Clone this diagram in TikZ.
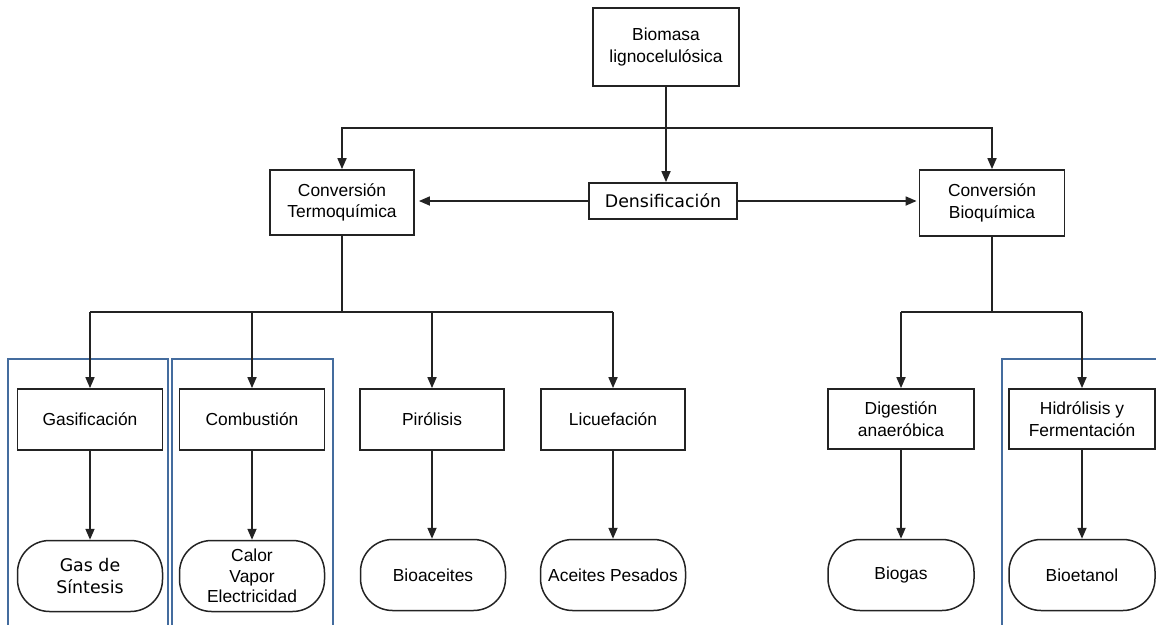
\documentclass[tikz,border=0pt]{standalone}
\usepackage{fontspec}
\usetikzlibrary{arrows.meta}
\newfontfamily\labfont{Liberation Sans}
\newfontfamily\dvfont{DejaVu Sans}
\newcommand\lab{\labfont\fontsize{17.4}{21.5}\selectfont}
\newcommand\dlab{\dvfont\fontsize{17.4}{21.5}\selectfont}
\definecolor{framecol}{RGB}{68,108,158}
\definecolor{ink}{RGB}{35,35,35}
\tikzset{
  box/.style={draw=ink, line width=1.8pt, fill=white, minimum width=145pt,
    minimum height=61pt, align=center, font=\lab, inner sep=0pt},
  oval/.style={draw=ink, line width=1.5pt, fill=white, rounded corners=32pt,
    minimum width=145pt, minimum height=71pt, align=center, font=\lab, inner sep=0pt},
  arr/.style={draw=ink, line width=1.7pt, -{Triangle[length=11pt,width=9pt]}},
  conn/.style={draw=ink, line width=1.7pt},
  frame/.style={draw=framecol, line width=2.8pt}
}
\begin{document}
\begin{tikzpicture}[x=1pt,y=-1pt]
\clip (0,0) rectangle (1156,624);
\fill[white] (0,0) rectangle (1156,624);

% grouping frames
\draw[frame] (8,640) -- (8,359) -- (168,359) -- (168,640);
\draw[frame] (172,640) -- (172,359) -- (333,359) -- (333,640);
\draw[frame] (1002,640) -- (1002,359) -- (1170,359);

% top level
\node[box, minimum width=146pt, minimum height=78pt] (bio) at (666,47) {Biomasa\\lignocelulósica};
\node[box, minimum width=144pt, minimum height=65pt] (termo) at (342,202.5) {Conversión\\Termoquímica};
\node[box, minimum width=148pt, minimum height=36pt, font=\dlab] (dens) at (663,201) {Densificación};
\node[box, minimum width=145pt, minimum height=66pt] (bioq) at (992,203) {Conversión\\Bioquímica};

% processes
\node[box] (gas)  at (90,419.5)  {Gasificación};
\node[box] (comb) at (252,419.5) {Combustión};
\node[box, minimum width=144pt] (piro) at (432,419.5) {Pirólisis};
\node[box, minimum width=144pt] (licu) at (613,419.5) {Licuefación};
\node[box, minimum width=146pt, minimum height=60pt] (dige)  at (901,419) {Digestión\\anaeróbica};
\node[box, minimum width=146pt, minimum height=60pt] (hidro) at (1082,419) {Hidrólisis y\\Fermentación};

% products
\node[oval, font=\dlab] (osin) at (90,576)  {Gas de\\Síntesis};
\node[oval, font=\fontsize{17.4}{20.5}\labfont\selectfont] (ocal) at (252,576) {Calor\\Vapor\\Electricidad};
\node[oval] (oace) at (433,575) {Bioaceites};
\node[oval] (opes) at (613,575) {Aceites Pesados};
\node[oval, minimum width=146pt] (ogas) at (901,575) {Biogas};
\node[oval, minimum width=146pt] (oeta) at (1082,575) {Bioetanol};

% distribution from the raw material
\coordinate (jt) at (666,128);
\draw[conn] (bio.south) -- (jt);
\draw[arr] (jt) -| (termo.north);
\draw[arr] (jt) -| (bioq.north);
\draw[arr] (jt) -- (jt |- dens.north);
\draw[arr, shorten >=4pt] (dens.west) -- (dens.west -| termo.east);
\draw[arr, shorten >=2pt] (dens.east) -- (dens.east -| bioq.west);

% thermochemical branch
\coordinate (jl) at (342,312);
\draw[conn] (termo.south) -- (jl);
\draw[conn] (gas.north |- jl) -- (licu.north |- jl);
\draw[arr] (gas.north |- jl) -- (gas.north);
\draw[arr] (comb.north |- jl) -- (comb.north);
\draw[arr] (piro.north |- jl) -- (piro.north);
\draw[arr] (licu.north |- jl) -- (licu.north);

% biochemical branch
\coordinate (jr) at (992,312);
\draw[conn] (bioq.south) -- (jr);
\draw[conn] (dige.north |- jr) -- (hidro.north |- jr);
\draw[arr] (dige.north |- jr) -- (dige.north);
\draw[arr] (hidro.north |- jr) -- (hidro.north);

% process to product
\draw[arr] (gas.south) -- (gas.south |- osin.north);
\draw[arr] (comb.south) -- (comb.south |- ocal.north);
\draw[arr] (piro.south) -- (piro.south |- oace.north);
\draw[arr] (licu.south) -- (licu.south |- opes.north);
\draw[arr] (dige.south) -- (dige.south |- ogas.north);
\draw[arr] (hidro.south) -- (hidro.south |- oeta.north);
\end{tikzpicture}
\end{document}
